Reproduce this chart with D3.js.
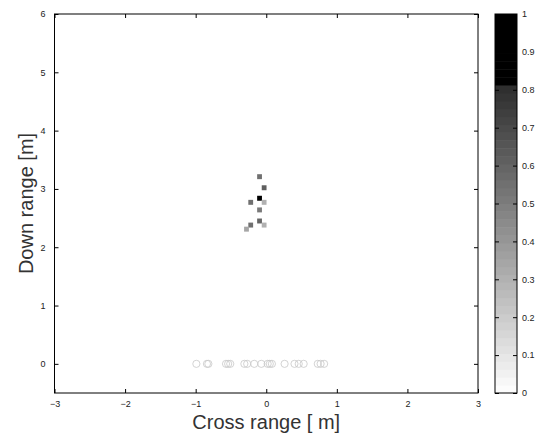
<!DOCTYPE html>
<html>
<head>
<meta charset="utf-8">
<script src="https://cdn.jsdelivr.net/npm/d3@7"></script>
<style>
  body { margin: 0; background: #fff; }
  text { font-family: "Liberation Sans", Arial, sans-serif; }
</style>
</head>
<body>
<div id="chart-area"></div>
<script>
// image cells (cross range, down range, intensity)
const cellX = [-0.095, -0.03, -0.095, -0.22, -0.03, -0.095, -0.095, -0.22, -0.03, -0.28];
const cellY = [3.21, 3.02, 2.84, 2.77, 2.77, 2.64, 2.45, 2.38, 2.38, 2.31];
const cellV = [0.55, 0.62, 1.0, 0.55, 0.3, 0.5, 0.6, 0.55, 0.3, 0.35];

// array element positions on the cross range axis
const elemX = [-0.99, -0.84, -0.82, -0.57, -0.54, -0.51, -0.31, -0.27, -0.17, -0.07,
               0.02, 0.05, 0.08, 0.26, 0.40, 0.46, 0.53, 0.73, 0.77, 0.82];

const xTicks = [-3, -2, -1, 0, 1, 2, 3];
const yTicks = [0, 1, 2, 3, 4, 5, 6];
const cbTicks = [0, 0.1, 0.2, 0.3, 0.4, 0.5, 0.6, 0.7, 0.8, 0.9, 1];

const config = {
    width: 541,
    height: 435,
    left: 54.5, right: 478, top: 14, bottom: 393,
    cbLeft: 495, cbRight: 517
};

const svg = d3.select('#chart-area')
    .append('svg')
    .attr('width', config.width)
    .attr('height', config.height);

const x = d3.scaleLinear().domain([-3, 3]).range([config.left, config.right]);
const y = d3.scaleLinear().domain([-0.5, 6]).range([config.bottom, config.top]);

// gray colormap, saturates to black above ~0.82
const ramp = d3.scaleLinear().domain([0, 0.82]).range(['#ffffff', '#2a2a2a']).clamp(true);
const gray = v => v > 0.82 ? '#000000' : ramp(v);
const nLevels = 48;
const colour = v => gray((Math.min(nLevels - 1, Math.floor(v * nLevels)) + 0.5) / nLevels);

// cells
const cw = 0.068, ch = 0.085;
svg.append('g').selectAll('rect')
    .data(cellV.map((v, i) => ({ x: cellX[i], y: cellY[i], v })))
    .join('rect')
    .attr('x', d => x(d.x - cw / 2))
    .attr('y', d => y(d.y + ch / 2))
    .attr('width', x(cw) - x(0))
    .attr('height', y(0) - y(ch))
    .attr('fill', d => colour(d.v));

// elements
svg.append('g').selectAll('circle')
    .data(elemX)
    .join('circle')
    .attr('cx', d => x(d))
    .attr('cy', y(0))
    .attr('r', 3.6)
    .attr('fill', 'none')
    .attr('stroke', '#c8c8c8')
    .attr('stroke-width', 0.8);

// axes, ticks pointing inward
const tk = 4;
const axisStyle = g => {
    g.select('.domain').remove();
    g.selectAll('.tick line').attr('stroke', '#000');
    g.selectAll('text').attr('font-size', '9px').attr('fill', '#222');
};
svg.append('g')
    .attr('transform', `translate(0,${config.bottom})`)
    .call(d3.axisBottom(x).tickValues(xTicks).tickFormat(d3.format('d'))
        .tickSizeInner(-tk).tickSizeOuter(0).tickPadding(8))
    .call(axisStyle);
svg.append('g')
    .attr('transform', `translate(0,${config.top})`)
    .call(d3.axisTop(x).tickValues(xTicks).tickSizeInner(-tk).tickSizeOuter(0).tickFormat(''))
    .call(axisStyle);
svg.append('g')
    .attr('transform', `translate(${config.left},0)`)
    .call(d3.axisLeft(y).tickValues(yTicks).tickFormat(d3.format('d'))
        .tickSizeInner(-tk).tickSizeOuter(0).tickPadding(9))
    .call(axisStyle);
svg.append('g')
    .attr('transform', `translate(${config.right},0)`)
    .call(d3.axisRight(y).tickValues(yTicks).tickSizeInner(-tk).tickSizeOuter(0).tickFormat(''))
    .call(axisStyle);

svg.append('rect')
    .attr('x', config.left).attr('y', config.top)
    .attr('width', config.right - config.left)
    .attr('height', config.bottom - config.top)
    .attr('fill', 'none').attr('stroke', '#000').attr('stroke-width', 1);

// axis titles
svg.append('text')
    .attr('x', x(0))
    .attr('y', 429)
    .attr('text-anchor', 'middle')
    .attr('font-size', '20px')
    .attr('fill', '#333')
    .text('Cross range [ m]');
svg.append('text')
    .attr('transform', `translate(33,${y(2.75)}) rotate(-90)`)
    .attr('text-anchor', 'middle')
    .attr('font-size', '20px')
    .attr('fill', '#333')
    .text('Down range [m]');

// colorbar
const cy = d3.scaleLinear().domain([0, 1]).range([config.bottom, config.top]);
svg.append('g').selectAll('rect')
    .data(d3.range(nLevels))
    .join('rect')
    .attr('x', config.cbLeft)
    .attr('y', i => cy((i + 1) / nLevels))
    .attr('width', config.cbRight - config.cbLeft)
    .attr('height', cy(0) - cy(1 / nLevels) + 0.5)
    .attr('fill', i => gray((i + 0.5) / nLevels));

svg.append('g')
    .attr('transform', `translate(${config.cbRight},0)`)
    .call(d3.axisRight(cy).tickValues(cbTicks).tickSizeInner(-tk).tickSizeOuter(0).tickPadding(5)
        .tickFormat(d => d === 0 || d === 1 ? d3.format('d')(d) : d3.format('.1f')(d)))
    .call(axisStyle);
svg.append('g')
    .attr('transform', `translate(${config.cbLeft},0)`)
    .call(d3.axisLeft(cy).tickValues(cbTicks).tickSizeInner(-tk).tickSizeOuter(0).tickFormat(''))
    .call(axisStyle);
svg.append('rect')
    .attr('x', config.cbLeft).attr('y', config.top)
    .attr('width', config.cbRight - config.cbLeft)
    .attr('height', config.bottom - config.top)
    .attr('fill', 'none').attr('stroke', '#000').attr('stroke-width', 1);
</script>
</body>
</html>
